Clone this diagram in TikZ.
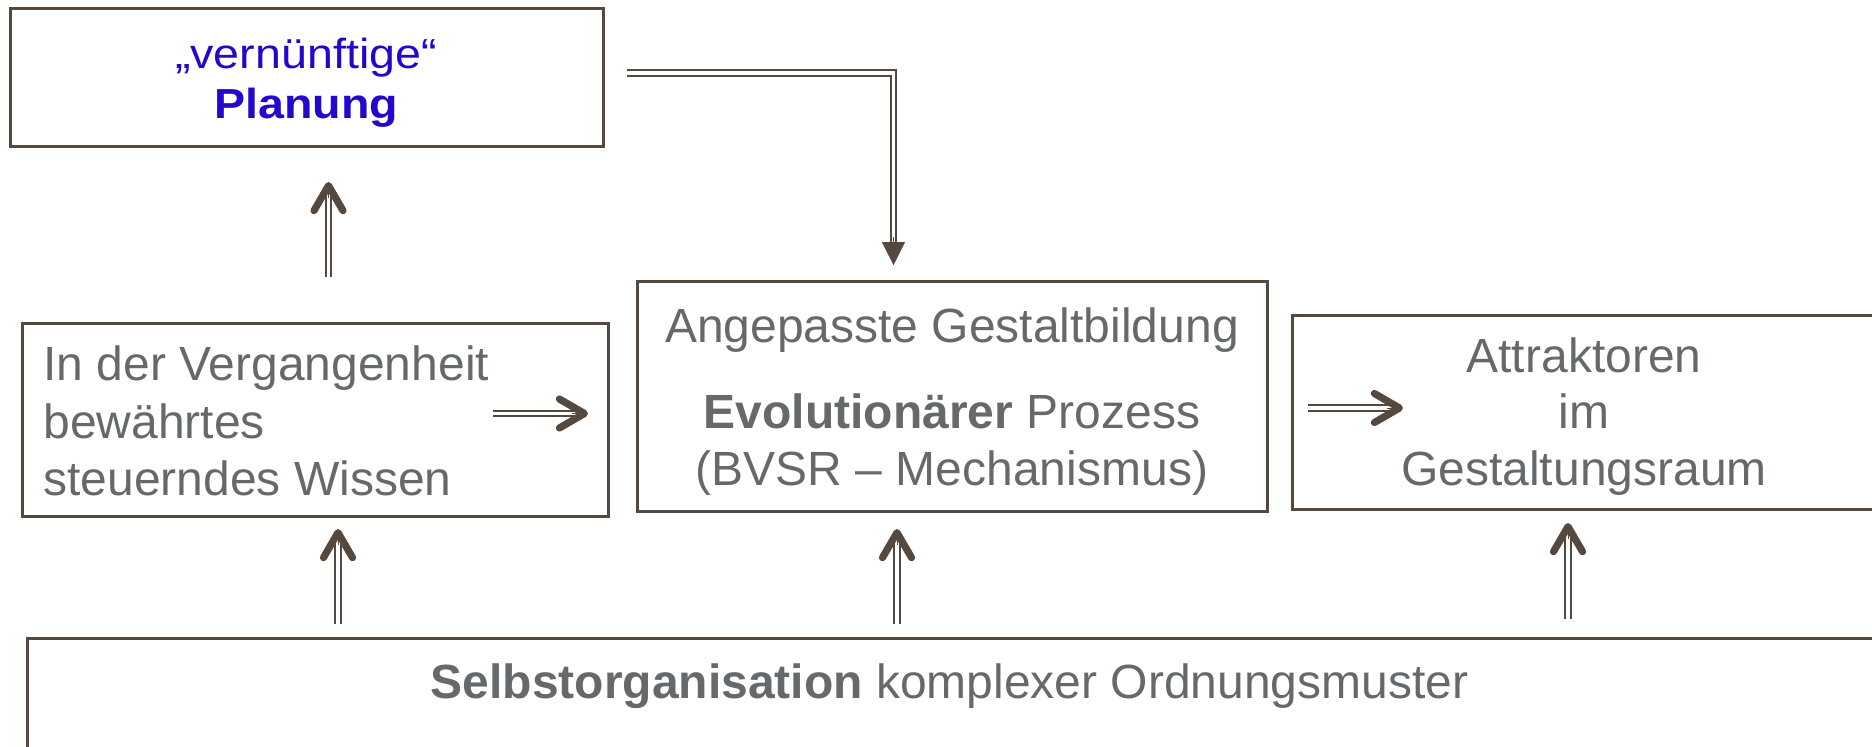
\documentclass[tikz,border=0pt]{standalone}
\usepackage{fontspec}
\setmainfont{Liberation Sans}
\usetikzlibrary{arrows.meta,calc,fit}
\definecolor{frame}{HTML}{54483F}
\definecolor{txt}{HTML}{66696C}
\definecolor{planblue}{HTML}{2208CC}
\begin{document}
\begin{tikzpicture}[x=0.5pt, y=-0.5pt,
  box/.style={draw=frame, line width=1.5pt, inner sep=0pt},
  lbl/.style={text=txt, inner sep=0pt, font=\fontsize{24}{28}\selectfont},
  bluelbl/.style={text=planblue, inner sep=0pt, font=\fontsize{21}{25}\selectfont},
  shaft/.style={draw=frame, double=white, line width=1.1pt, double distance=1.7pt},
  barbhead/.style={draw=frame, line width=0.1pt,
    -{Straight Barb[length=12.5pt, width=14.5pt, line width=3.6pt, round]}},
  trihead/.style={draw=frame, fill=frame, line width=0.1pt,
    -{Triangle[length=11.5pt, width=11.5pt]}}]
\useasboundingbox (0,0) rectangle (1872,746);
\clip (0,0) rectangle (1872,746);

% boxes
\node[box, fit={(10,8) (603,146)}] (plan) {};
\node[box, fit={(22,323) (608,516)}] (wissen) {};
\node[box, fit={(637,281) (1267,511)}] (gestalt) {};
\node[box, fit={(1292,315) (1900,509)}] (attr) {};
\node[box, fit={(27,638) (1900,780)}] (selbst) {};

% texts
\node[bluelbl, anchor=base] (plan-a) at (306,68) {\scalebox{1.11}[1]{„vernünftige“}};
\node[bluelbl, anchor=base] (plan-b) at (306,118) {\scalebox{1.11}[1]{\textbf{Planung}}};

\node[lbl, anchor=base west] (wissen-a) at (43,380) {In der Vergangenheit};
\node[lbl, anchor=base west] (wissen-b) at (43,438) {bewährtes};
\node[lbl, anchor=base west] (wissen-c) at (43,495) {steuerndes Wissen};

\node[lbl, anchor=base] (gestalt-a) at (952,342) {Angepasste Gestaltbildung};
\node[lbl, anchor=base] (gestalt-b) at (952,428) {\textbf{Evolutionärer} Prozess};
\node[lbl, anchor=base] (gestalt-c) at (952,485) {(BVSR – Mechanismus)};

\node[lbl, anchor=base] (attr-a) at (1584,372) {Attraktoren};
\node[lbl, anchor=base] (attr-b) at (1584,428) {im};
\node[lbl, anchor=base] (attr-c) at (1584,485) {Gestaltungsraum};

\node[lbl, anchor=base] (selbst-a) at (949.5,698) {\textbf{Selbstorganisation} komplexer Ordnungsmuster};

% arrow end points
\coordinate (w2p-t) at (328.5,277);  \coordinate (w2p-h) at (328.5,182);
\coordinate (w2g-t) at (493,413.5);  \coordinate (w2g-h) at (588,413.5);
\coordinate (g2a-t) at (1308,408);   \coordinate (g2a-h) at (1403,408);
\coordinate (s2w-t) at (338,624);    \coordinate (s2w-h) at (338,529);
\coordinate (s2g-t) at (897,624);    \coordinate (s2g-h) at (897,529);
\coordinate (s2a-t) at (1568,619);   \coordinate (s2a-h) at (1568,523);
\coordinate (p2g-t) at (627,73);     \coordinate (p2g-c) at (893.5,73);
\coordinate (p2g-e) at (893.5,244);  \coordinate (p2g-h) at (893.5,265);

% double-lined arrows with open barbs
\foreach \a in {w2p,w2g,g2a,s2w,s2g,s2a}{
  \draw[shaft, shorten >=7pt] (\a-t) -- (\a-h);
  \draw[barbhead] ($(\a-h)!8pt!(\a-t)$) -- (\a-h);
}

% planning feeds the adapted formation
\draw[shaft] (p2g-t) -- (p2g-c) -- (p2g-e);
\draw[trihead] ($(p2g-h)!14pt!(p2g-c)$) -- (p2g-h);
\end{tikzpicture}
\end{document}
